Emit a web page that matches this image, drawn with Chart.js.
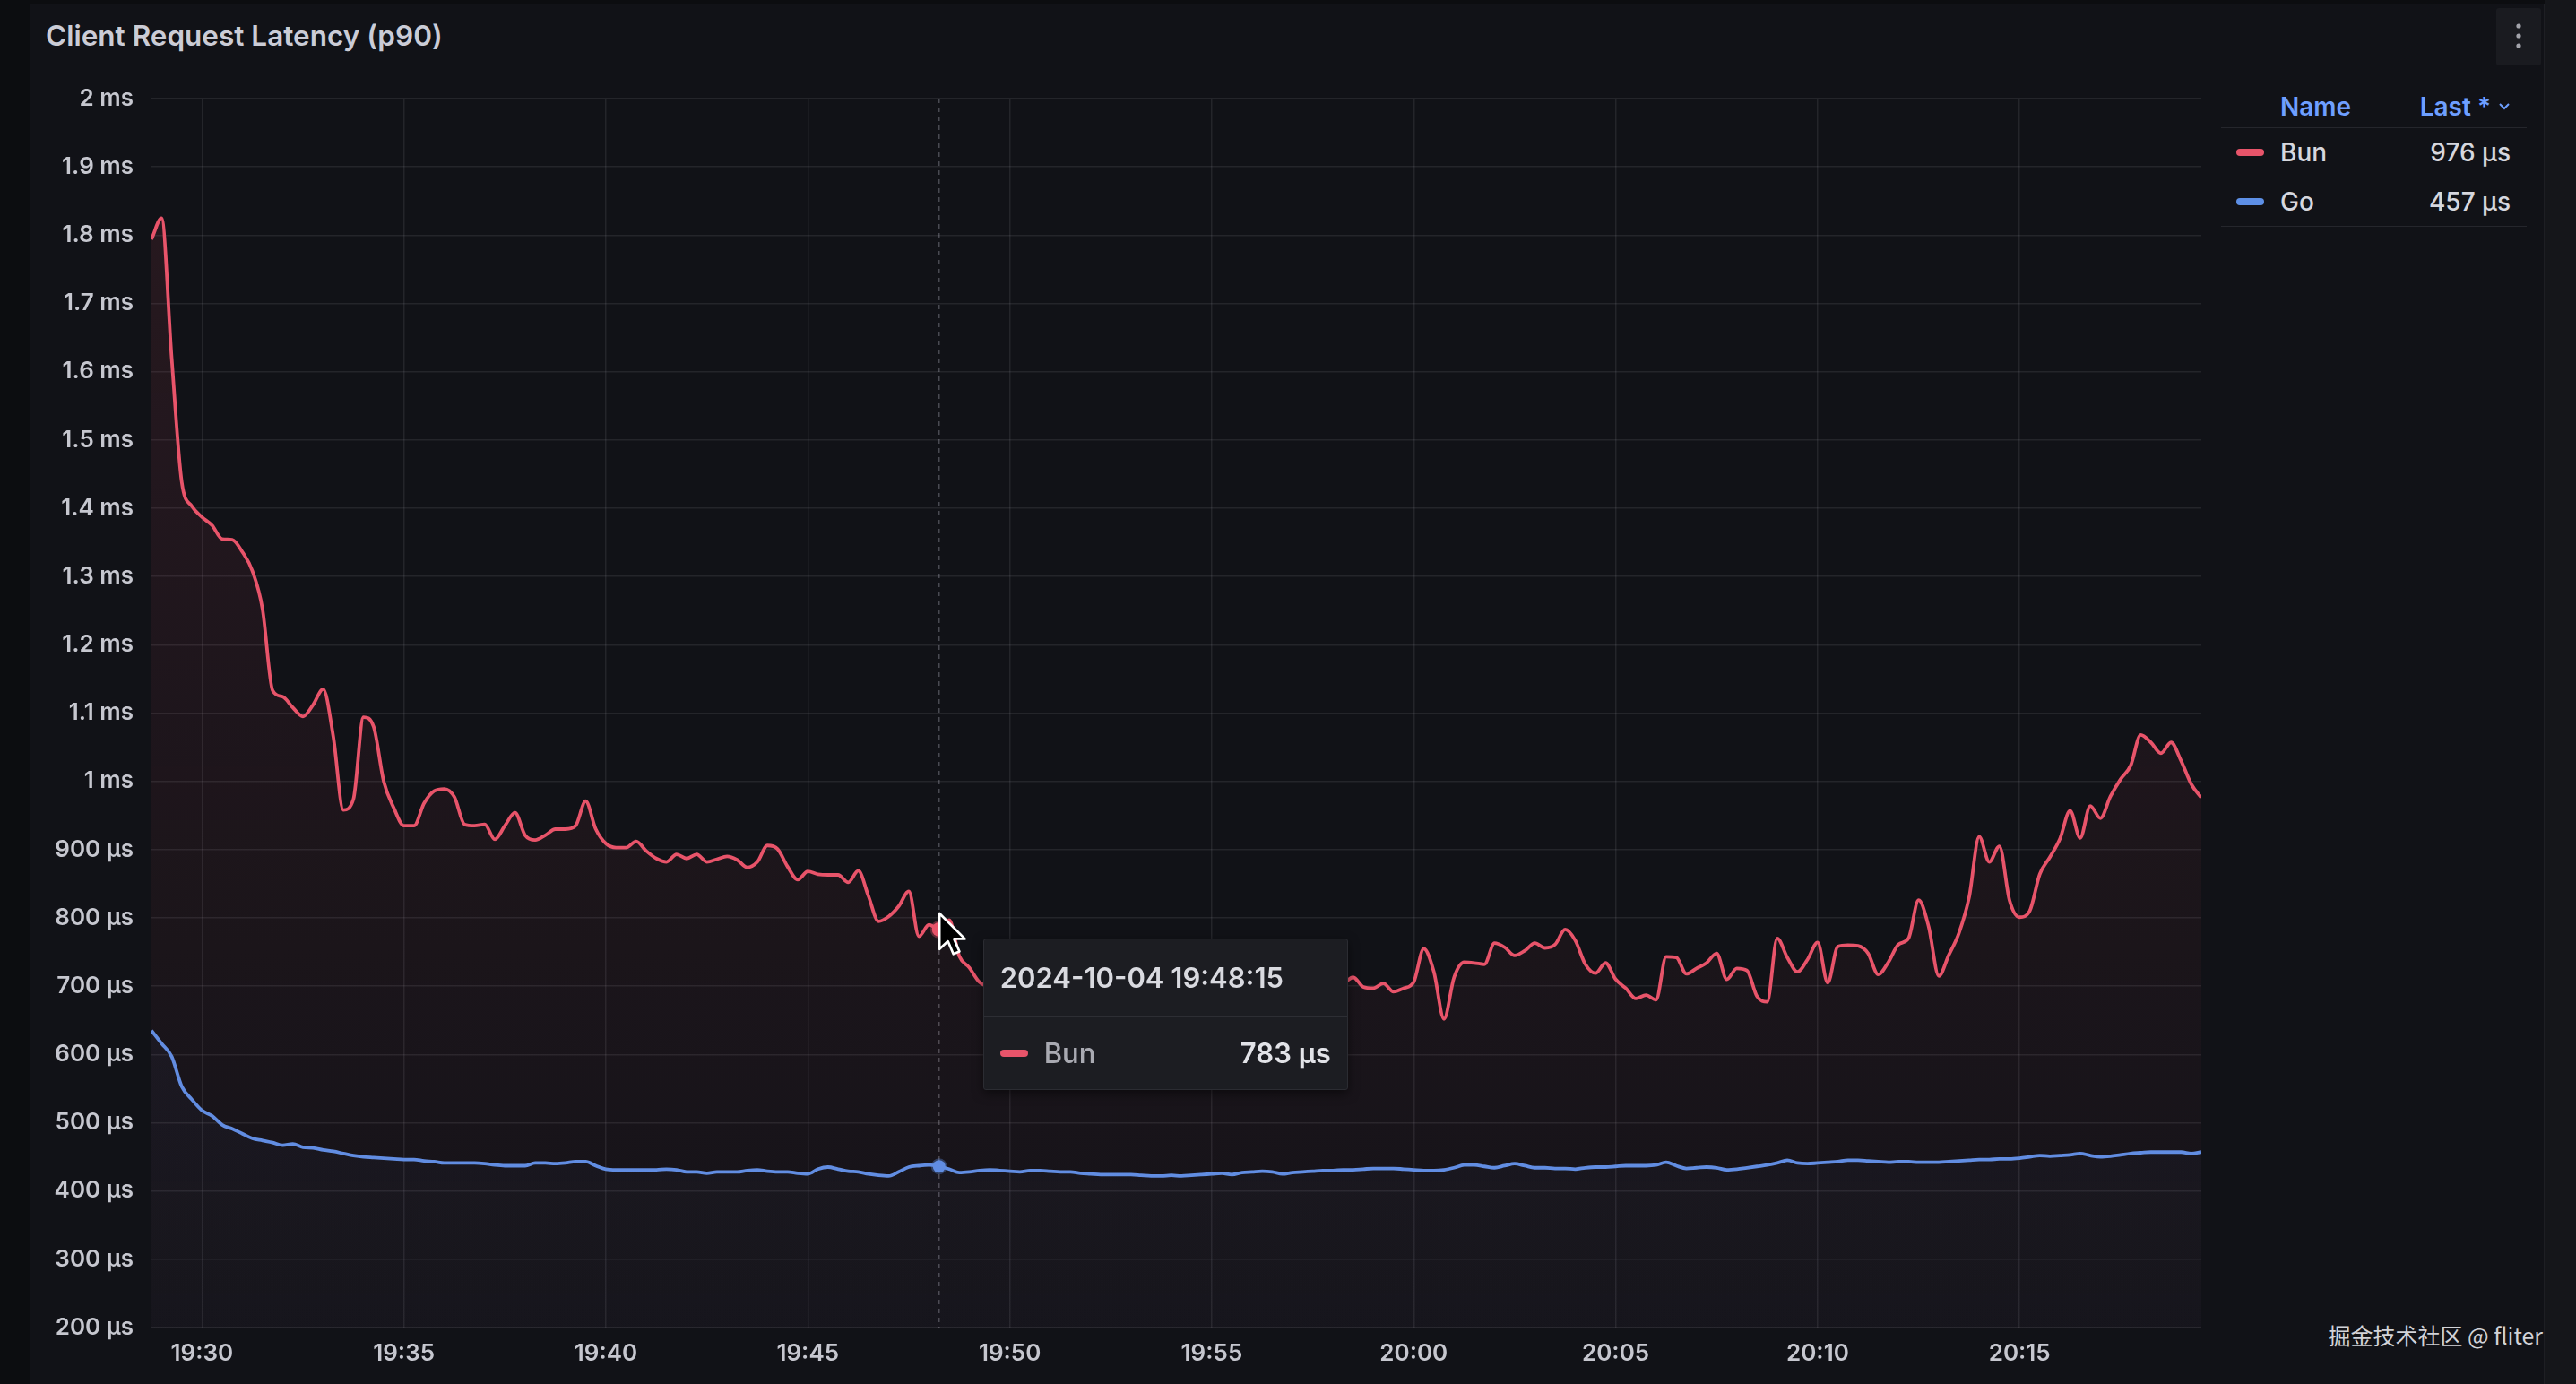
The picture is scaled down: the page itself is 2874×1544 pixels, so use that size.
<!DOCTYPE html>
<html>
<head>
<meta charset="utf-8">
<title>Client Request Latency (p90)</title>
<script src="https://cdn.jsdelivr.net/npm/chart.js@4.4.1/dist/chart.umd.min.js"></script>
<style>
  html, body { margin: 0; padding: 0; }
  body {
    width: 2874px; height: 1544px; position: relative; overflow: hidden;
    background: #0c0d10; font-family: Inter, "Noto Sans", sans-serif;
  }
  .panel {
    position: absolute; left: 33px; top: 4px; width: 2804px; height: 1545px;
    background: #111217; border: 1px solid #1e1f24;
  }
  .edge { position: absolute; left: 2839px; top: 0; width: 35px; height: 1544px; background: #15161a; }
  .title { position: absolute; left: 51px; top: 20px; font-size: 31.5px; font-weight: 600; color: #cbccd6; }
  .menu { position: absolute; left: 2785px; top: 9px; width: 50px; height: 64px; background: #1a1b20; border-radius: 3px; }
  #plot { position: absolute; left: 33px; top: 60px; }

  .legend { position: absolute; left: 2478px; top: 95px; width: 341px; font-size: 28px; font-weight: 500; }
  .lg-head, .lg-row {
    position: relative; display: flex; align-items: center;
    border-bottom: 1px solid #25262c; padding-right: 18px;
  }
  .lg-head { height: 47px; color: #6e9fff; font-weight: 600; }
  .lg-row { height: 54px; color: #d6d7de; }
  .lg-dash { position: absolute; left: 17px; width: 31px; height: 8px; border-radius: 4px; }
  .lg-name { position: absolute; left: 66px; }
  .lg-last { margin-left: auto; display: flex; align-items: center; }
  .lg-last svg { margin-left: 8px; }

  #tip {
    position: absolute; width: 405px; height: 167px; display: none;
    background: #1c1d22; border: 1px solid #2b2c32; border-radius: 3px;
    box-shadow: 0 4px 12px rgba(0,0,0,0.5);
  }
  .tt-head { height: 86px; border-bottom: 1px solid #2d2e34; display: flex; align-items: center;
    padding-left: 18px; font-size: 31px; font-weight: 600; color: #d9dae0; }
  .tt-row { height: 80px; display: flex; align-items: center; padding: 0 18px; font-size: 31px; }
  .tt-dash { width: 31px; height: 8px; border-radius: 4px; margin-right: 18px; }
  .tt-name { color: #a9aab2; font-weight: 500; }
  .tt-val { margin-left: auto; color: #e2e3e8; font-weight: 600; }
  #pointer { position: absolute; display: none; }

  .mark {
    position: absolute; right: 37px; top: 1471px;
    font-family: "Noto Sans CJK SC", "Noto Sans", sans-serif; font-size: 25px; color: #d2d3d8;
  }
</style>
</head>
<body>
<div class="panel"></div>
<div class="edge"></div>
<div class="title">Client Request Latency (p90)</div>
<div class="menu">
  <svg width="50" height="64"><g fill="#a3a4ab"><circle cx="25" cy="20" r="2.6"/><circle cx="25" cy="31" r="2.6"/><circle cx="25" cy="42" r="2.6"/></g></svg>
</div>

<canvas id="plot" width="2440" height="1484"></canvas>

<div class="legend" id="legend"></div>

<div id="tip">
  <div class="tt-head"><span class="tt-time"></span></div>
  <div class="tt-row"><span class="tt-dash"></span><span class="tt-name"></span><span class="tt-val"></span></div>
</div>
<svg id="pointer" width="34" height="54" viewBox="0 0 25 40">
  <path d="M1.5 1.5 L1.5 31 L8.5 24.5 L13 35 L18 33 L13.5 22.5 L22.5 22.5 Z" fill="#000" stroke="#fff" stroke-width="2" stroke-linejoin="round"/>
</svg>

<div class="mark">掘金技术社区 @ fliter</div>

<script>
// time axis: one sample every 15 s
var DAY = '2024-10-04';
var START = 19 * 3600 + 28 * 60 + 45;   // 19:28:45
var STEP = 15;
var HOVER = '19:48:15';
var xTicks = ['19:30', '19:35', '19:40', '19:45', '19:50', '19:55', '20:00', '20:05', '20:10', '20:15'];

// p90 latency in µs
var bun = [
  1794, 1825, 1620, 1438, 1403, 1387, 1375, 1355, 1354, 1336, 1308,
  1252, 1133, 1124, 1108, 1095, 1112, 1135, 1066, 958, 974,
  1094, 1080, 1000, 961, 935, 935, 968, 986, 989, 977,
  937, 935, 937, 915, 935, 954, 921, 914, 921, 930,
  930, 935, 971, 930, 909, 903, 903, 912, 898, 887,
  882, 893, 887, 893, 882, 886, 890, 885, 874, 882,
  906, 901, 875, 856, 868, 864, 863, 863, 852, 869,
  832, 795, 802, 817, 839, 773, 790, 783, 797, 744,
  727, 706,
  700, 712, 705, 690, 698, 718, 710, 695, 702, 725,
  715, 700, 688, 705, 720, 712, 698, 706, 730, 718,
  704, 695, 710, 722, 708, 697, 703, 716, 725, 711,
  700, 694, 707, 719, 712, 705,
  713, 699, 697, 704, 692, 697, 706, 755, 721, 652,
  713, 735, 734, 732, 763, 757, 745, 752, 763, 756,
  761, 783, 767, 732, 719, 734, 710, 697, 682, 687,
  680, 743, 742,
  718, 726, 734, 748, 710, 726, 723, 685, 677, 770,
  742, 721, 739, 764, 705, 758, 760, 759, 748, 717,
  735, 761, 770, 826, 787, 715, 746, 778, 830, 919,
  882, 905, 826, 801, 810, 864, 889, 916, 957, 917,
  964, 946, 978, 1003, 1023, 1068, 1057, 1041, 1057, 1030,
  996, 976
];

var go = [
  635, 616, 597, 553, 534, 518, 510, 497, 491, 484, 477,
  474, 471, 467, 469, 464, 463, 460, 458, 455, 452,
  450, 449, 448, 447, 446, 446, 444, 443, 441, 441,
  441, 441, 440, 438, 437, 437, 437, 441, 441, 440,
  441, 443, 443, 437, 432, 431, 431, 431, 431, 431,
  432, 431, 428, 428, 426, 428, 428, 428, 430, 431,
  429, 428, 428, 426, 425, 432, 435, 432, 429, 428,
  425, 423, 422, 428, 435, 437, 438, 436, 432, 427,
  428, 430, 431, 430, 429, 428, 430, 430, 429, 428,
  428, 426, 425, 424, 424, 424, 424, 423, 422, 422, 423,
  422, 423, 424, 425, 426, 424, 427, 428, 429, 428,
  425, 427, 428, 429, 430, 430, 431, 431, 432, 433,
  433, 433, 432, 431, 430, 430, 431, 434, 438, 438,
  436, 434, 437, 440, 437, 434, 434, 433, 433, 432,
  434, 435, 435, 436, 437, 437, 437, 438, 442, 437,
  433, 434, 435, 434, 431, 432, 434, 436, 438, 441,
  445, 441, 440, 441, 442, 443, 445, 445, 444, 443,
  442, 443, 443, 442, 442, 442, 443, 444, 445, 446,
  446, 447, 447, 448, 450, 452, 451, 452, 453, 455,
  452, 450, 451, 453, 455, 456, 457, 457, 457, 457, 455, 457
];

var Y_MIN = 200, Y_MAX = 2000, Y_STEP = 100;   // µs

var RED = '#e8546a';
var BLUE = '#5d8fe6';
var GRID = 'rgba(204,204,220,0.10)';
var TICK = '#c6c7cf';

function pad(n) { return (n < 10 ? '0' : '') + n; }

function clock(sec, withSec) {
    var h = Math.floor(sec / 3600), m = Math.floor(sec % 3600 / 60), s = sec % 60;
    return pad(h) + ':' + pad(m) + (withSec ? ':' + pad(s) : '');
}

function toSec(str) {
    var p = str.split(':');
    return +p[0] * 3600 + +p[1] * 60 + (+p[2] || 0);
}

function latency(v) {
    if (v >= 1000) return (+(v / 1000).toFixed(2)) + ' ms';
    return Math.round(v) + ' µs';
}

function points(arr) {
    return arr.map(function(v, i) { return {x: START + i * STEP, y: v}; });
}

function fade(rgb, top, bottom) {
    return function(c) {
        var a = c.chart.chartArea;
        if (!a) return 'rgba(' + rgb + ',0)';
        var g = c.chart.ctx.createLinearGradient(0, a.top, 0, a.bottom);
        g.addColorStop(0, 'rgba(' + rgb + ',' + top + ')');
        g.addColorStop(1, 'rgba(' + rgb + ',' + bottom + ')');
        return g;
    };
}

// dashed vertical hover line, under the points
var crosshair = {
    id: 'crosshair',
    beforeDatasetsDraw: function(chart) {
        var act = chart.getActiveElements();
        if (!act.length) return;
        var x = act[0].element.x, a = chart.chartArea, c = chart.ctx;
        c.save();
        c.strokeStyle = 'rgba(204,204,220,0.30)';
        c.lineWidth = 1.5;
        c.setLineDash([5, 5]);
        c.beginPath();
        c.moveTo(x, a.top);
        c.lineTo(x, a.bottom);
        c.stroke();
        c.restore();
    }
};

function showTip(context) {
    var tip = context.tooltip;
    var el = document.getElementById('tip');
    var ptr = document.getElementById('pointer');
    if (!tip.dataPoints || !tip.dataPoints.length) {
        el.style.display = 'none';
        ptr.style.display = 'none';
        return;
    }
    var dp = tip.dataPoints[0];
    el.querySelector('.tt-time').textContent = DAY + ' ' + clock(dp.parsed.x, true);
    el.querySelector('.tt-name').textContent = dp.dataset.label;
    el.querySelector('.tt-val').textContent = latency(dp.parsed.y);
    el.querySelector('.tt-dash').style.background = dp.dataset.borderColor;

    var cv = context.chart.canvas;
    var x = cv.offsetLeft + tip.caretX, y = cv.offsetTop + tip.caretY;
    el.style.left = (x + 49) + 'px';
    el.style.top = (y + 10) + 'px';
    el.style.display = 'block';
    ptr.style.left = (x - 2) + 'px';
    ptr.style.top = (y - 20) + 'px';
    ptr.style.display = 'block';
}

function buildLegend(series) {
    var html = '<div class="lg-head"><span class="lg-name">Name</span>' +
        '<span class="lg-last">Last *<svg width="14" height="10"><polyline points="2,2 7,7 12,2" fill="none" stroke="#6e9fff" stroke-width="2"/></svg></span></div>';
    series.forEach(function(s) {
        html += '<div class="lg-row"><span class="lg-dash" style="background:' + s.borderColor + '"></span>' +
            '<span class="lg-name">' + s.label + '</span>' +
            '<span class="lg-last">' + latency(s.data[s.data.length - 1].y) + '</span></div>';
    });
    document.getElementById('legend').innerHTML = html;
}

function build() {
    var font = {family: 'Inter', size: 26, weight: '600'};
    var ctx = document.getElementById('plot').getContext('2d');

    var chart = new Chart(ctx, {
        type: 'line',
        data: {
            datasets: [
                {
                    label: 'Bun',
                    data: points(bun),
                    borderColor: RED,
                    borderWidth: 3.8,
                    backgroundColor: fade('232,84,106', 0.11, 0.02),
                    fill: 'start',
                    cubicInterpolationMode: 'monotone',
                    pointRadius: 0,
                    pointHoverRadius: 8,
                    pointHoverBackgroundColor: RED,
                    pointHoverBorderColor: 'rgba(232,84,106,0.35)',
                    pointHoverBorderWidth: 4
                },
                {
                    label: 'Go',
                    data: points(go),
                    borderColor: BLUE,
                    borderWidth: 3.8,
                    backgroundColor: fade('93,143,230', 0.10, 0.02),
                    fill: 'start',
                    cubicInterpolationMode: 'monotone',
                    pointRadius: 0,
                    pointHoverRadius: 7,
                    pointHoverBackgroundColor: BLUE,
                    pointHoverBorderColor: 'rgba(93,143,230,0.35)',
                    pointHoverBorderWidth: 4
                }
            ]
        },
        options: {
            responsive: false,
            animation: false,
            events: [],
            layout: { padding: { top: 50, right: 17, left: 0, bottom: 0 } },
            plugins: {
                legend: { display: false },
                title: { display: false },
                tooltip: { enabled: false, external: showTip, position: 'nearest' }
            },
            scales: {
                x: {
                    type: 'linear',
                    min: START,
                    max: START + (bun.length - 1) * STEP,
                    afterBuildTicks: function(s) {
                        s.ticks = xTicks.map(function(t) { return {value: toSec(t)}; });
                    },
                    afterFit: function(s) { s.height = 63; },
                    grid: { color: GRID, lineWidth: 1.5, drawTicks: false },
                    border: { display: false },
                    ticks: {
                        autoSkip: false,
                        maxRotation: 0,
                        padding: 14,
                        color: TICK,
                        font: font,
                        callback: function(v) { return clock(v, false); }
                    }
                },
                y: {
                    min: Y_MIN,
                    max: Y_MAX,
                    afterFit: function(s) { s.width = 136; },
                    grid: { color: GRID, lineWidth: 1.5, drawTicks: false },
                    border: { display: false },
                    ticks: {
                        stepSize: Y_STEP,
                        autoSkip: false,
                        padding: 20,
                        color: TICK,
                        font: font,
                        callback: function(v) { return latency(v); }
                    }
                }
            }
        },
        plugins: [crosshair]
    });

    buildLegend(chart.data.datasets);

    // hovered sample shown in the tooltip
    var hi = (toSec(HOVER) - START) / STEP;
    chart.setActiveElements([{datasetIndex: 0, index: hi}, {datasetIndex: 1, index: hi}]);
    chart.update();
    chart.tooltip.setActiveElements([{datasetIndex: 0, index: hi}], {x: 0, y: 0});
    chart.update();
}

Promise.all([
    document.fonts.load('600 26px Inter'),
    document.fonts.load('500 28px Inter')
]).then(build, build);
</script>
</body>
</html>
